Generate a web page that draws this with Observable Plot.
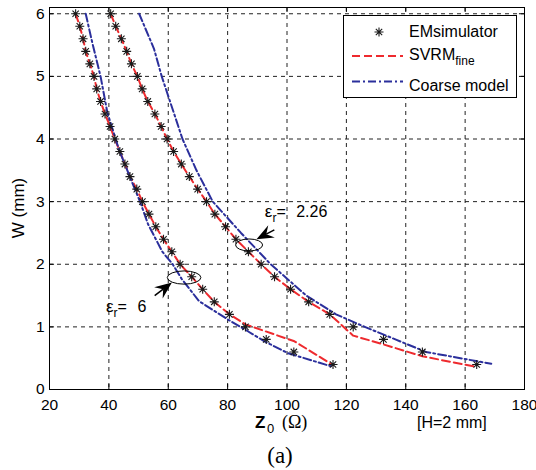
<!DOCTYPE html>
<html>
<head>
<meta charset="utf-8">
<script src="https://cdn.jsdelivr.net/npm/d3@7"></script>
<script src="https://cdn.jsdelivr.net/npm/@observablehq/plot@0.6"></script>
<style>
  body { margin: 0; background: #fff; }
  #wrap { position: relative; width: 536px; height: 470px; }
  #cap { position: absolute; left: 0; top: 444px; width: 560px; text-align: center;
         font-family: "Liberation Serif", "Times New Roman", serif; font-size: 23px; line-height: 23px; }
</style>
</head>
<body>
<div id="wrap"><div id="chart"></div><div id="cap">(a)</div></div>
<script>
// ---- data ----
const xTicks = [20, 40, 60, 80, 100, 120, 140, 160, 180];
const yTicks = [0, 1, 2, 3, 4, 5, 6];
const emW = [6.0, 5.8, 5.6, 5.4, 5.2, 5.0, 4.8, 4.6, 4.4, 4.2, 4.0, 3.8, 3.6, 3.4, 3.2, 3.0, 2.8, 2.6, 2.4, 2.2, 2.0, 1.8, 1.6, 1.4, 1.2, 1.0, 0.8, 0.6, 0.4];
const emZ_er6 = [28.8, 30.2, 31.3, 32.2, 33.6, 35.0, 35.9, 37.2, 38.7, 40.4, 42.0, 43.7, 45.4, 47.1, 49.4, 51.3, 53.5, 55.8, 58.4, 61.2, 64.0, 67.9, 71.6, 75.5, 80.6, 86.0, 93.0, 102.3, 115.5];
const emZ_er226 = [40.6, 42.3, 44.2, 46.0, 47.6, 49.6, 51.2, 53.1, 55.5, 57.6, 59.6, 61.8, 64.4, 67.1, 69.9, 72.9, 75.7, 79.3, 82.8, 87.0, 91.3, 95.8, 101.2, 107.3, 114.4, 122.3, 132.5, 145.6, 163.9];
// SVRM fine model (red dashed)
const svrmZ_er6 = [28.8, 30.2, 31.3, 32.2, 33.6, 35.0, 35.9, 37.2, 38.7, 40.4, 42.0, 43.7, 45.4, 47.1, 49.4, 51.3, 53.5, 55.8, 58.4, 61.2, 64.0, 67.9, 71.6, 75.5, 80.6, 86.0, 102.5, 115.5];
const svrmW_er6 = [6.0, 5.8, 5.6, 5.4, 5.2, 5.0, 4.8, 4.6, 4.4, 4.2, 4.0, 3.8, 3.6, 3.4, 3.2, 3.0, 2.8, 2.6, 2.4, 2.2, 2.0, 1.8, 1.6, 1.4, 1.2, 1.04, 0.77, 0.39];
const svrmZ_er226 = [40.6, 42.3, 44.2, 46.0, 47.6, 49.6, 51.2, 53.1, 55.5, 57.6, 59.6, 61.8, 64.4, 67.1, 69.9, 72.9, 75.7, 79.3, 82.8, 87.0, 91.3, 95.8, 101.2, 107.3, 114.4, 122.3, 132.5, 145.6, 163.9];
const svrmW_er226 = [6.0, 5.8, 5.6, 5.4, 5.2, 5.0, 4.8, 4.6, 4.4, 4.2, 4.0, 3.8, 3.6, 3.4, 3.2, 3.0, 2.8, 2.6, 2.4, 2.2, 2.0, 1.8, 1.6, 1.4, 1.2, 0.86, 0.72, 0.53, 0.36];
// Coarse model (blue dash-dot)
const coarseZ_er6 = [32.2, 34.4, 37.2, 39.5, 43.4, 47.9, 50.5, 53.2, 58.0, 61.5, 64.6, 70.4, 80.0, 86.8, 92.4, 100.3, 114.9];
const coarseW_er6 = [6.0, 5.54, 5.0, 4.42, 3.83, 3.3, 3.0, 2.64, 2.2, 2.0, 1.76, 1.41, 1.12, 0.93, 0.77, 0.58, 0.37];
const coarseZ_er226 = [50.2, 55.2, 57.8, 64.8, 69.5, 75.0, 84.5, 94.5, 106.5, 116.5, 126.2, 136.5, 146.8, 168.8];
const coarseW_er226 = [6.0, 5.44, 5.0, 4.0, 3.5, 3.0, 2.5, 2.0, 1.5, 1.2, 1.0, 0.8, 0.6, 0.41];
// annotations
const annText = ["2.26", "6"];
const annTextZ = [92.7, 39.2];
const annTextW = [2.75, 1.23];
const ellZ = [87.4, 65.5];
const ellW = [2.30, 1.78];
const arrowTipZ = [89.9, 61.4];
const arrowTipW = [2.39, 1.70];
const arrowTailZ = [95.9, 55.6];
const arrowTailW = [2.54, 1.49];
const legendLabels = ["EMsimulator", "SVRM", "Coarse model"];

// ---- build tables ----
const em = [...emW.map((w, i) => ({z: emZ_er6[i], w})), ...emW.map((w, i) => ({z: emZ_er226[i], w}))];
const svrm6 = svrmZ_er6.map((z, i) => ({z, w: svrmW_er6[i]}));
const svrm226 = svrmZ_er226.map((z, i) => ({z, w: svrmW_er226[i]}));
const coarse6 = coarseZ_er6.map((z, i) => ({z, w: coarseW_er6[i]}));
const coarse226 = coarseZ_er226.map((z, i) => ({z, w: coarseW_er226[i]}));

const star = {
  draw(ctx, size) {
    const r = Math.sqrt(size / Math.PI), d = r * Math.SQRT1_2;
    ctx.moveTo(-r, 0); ctx.lineTo(r, 0);
    ctx.moveTo(0, -r); ctx.lineTo(0, r);
    ctx.moveTo(-d, -d); ctx.lineTo(d, d);
    ctx.moveTo(-d, d); ctx.lineTo(d, -d);
  }
};

const RED = "#ee2a2e", BLUE = "#2b2f9c";
const redDash = "8,4", blueDash = "8,3,2,3";

const lineOpts = (stroke, dash) => ({x: "z", y: "w", stroke, strokeWidth: 2, strokeDasharray: dash});

const plot = Plot.plot({
  width: 536,
  height: 440,
  marginLeft: 49,
  marginRight: 12,
  marginTop: 7,
  marginBottom: 51,
  style: {fontFamily: "'Liberation Sans', Arial, sans-serif", fontSize: "15.5px", color: "#000", background: "#fff"},
  x: {domain: [20, 180], ticks: xTicks, tickSize: 0, tickPadding: 9, label: null, tickFormat: d => String(d)},
  y: {domain: [0, 6.1], ticks: yTicks, tickSize: 0, tickPadding: 5, label: null, tickFormat: d => String(d)},
  marks: [
    Plot.ruleX(xTicks.slice(1, -1), {stroke: "#222", strokeDasharray: "4,4", strokeWidth: 1}),
    Plot.ruleY(yTicks.slice(1), {stroke: "#222", strokeDasharray: "4,4", strokeWidth: 1}),
    Plot.ruleX(xTicks, {y1: 0, y2: 0.08, stroke: "#000"}),
    Plot.ruleX(xTicks, {y1: 6.02, y2: 6.1, stroke: "#000"}),
    Plot.ruleY(yTicks, {x1: 20, x2: 21.7, stroke: "#000"}),
    Plot.ruleY(yTicks, {x1: 178.3, x2: 180, stroke: "#000"}),
    Plot.line(svrm6, lineOpts(RED, redDash)),
    Plot.line(svrm226, lineOpts(RED, redDash)),
    Plot.line(coarse6, lineOpts(BLUE, blueDash)),
    Plot.line(coarse226, lineOpts(BLUE, blueDash)),
    Plot.dot(em, {x: "z", y: "w", symbol: star, r: 4.5, stroke: "#1a1a1a", strokeWidth: 1.1}),
    Plot.frame({stroke: "#000", strokeWidth: 1})
  ]
});

document.getElementById("chart").appendChild(plot);

// ---- annotations via the plot's scales ----
const X = plot.scale("x"), Y = plot.scale("y");
const svg = d3.select(plot);
const g = svg.append("g")
  .attr("font-family", "'Liberation Sans', Arial, sans-serif")
  .attr("text-anchor", "start")
  .attr("fill", "#000");

annText.forEach((t, i) => {
  const px = X.apply(annTextZ[i]), py = Y.apply(annTextW[i]);
  const tx = g.append("text").attr("x", px).attr("y", py).attr("font-size", 16);
  tx.append("tspan").attr("font-size", 17).text("ε");
  tx.append("tspan").attr("font-size", 12).attr("dy", 5).text("r");
  tx.append("tspan").attr("dy", -5).text("= ");
  tx.append("tspan").attr("dx", 6).text(t);
});

ellZ.forEach((z, i) => {
  g.append("ellipse").attr("cx", X.apply(z)).attr("cy", Y.apply(ellW[i]))
    .attr("rx", i === 0 ? 13.5 : 16.8).attr("ry", i === 0 ? 6 : 6.6)
    .attr("fill", "none").attr("stroke", "#000").attr("stroke-width", 1);
});

arrowTipZ.forEach((z, i) => {
  const x1 = X.apply(z), y1 = Y.apply(arrowTipW[i]);
  const x0 = X.apply(arrowTailZ[i]), y0 = Y.apply(arrowTailW[i]);
  const ang = Math.atan2(y1 - y0, x1 - x0);
  const L = 17, W = 7, notch = 11;
  const p = (a, b) => [x1 - a * Math.cos(ang) + b * Math.sin(ang), y1 - a * Math.sin(ang) - b * Math.cos(ang)];
  const pts = [[x1, y1], p(L, W), p(notch, 0), p(L, -W)];
  g.append("path").attr("d", "M" + pts.map(q => q.join(",")).join("L") + "Z").attr("fill", "#000");
  g.append("line").attr("x1", x0).attr("y1", y0).attr("x2", p(notch, 0)[0]).attr("y2", p(notch, 0)[1])
    .attr("stroke", "#000").attr("stroke-width", 1.5);
});

// axis labels
g.append("text").attr("x", 255).attr("y", 428).attr("font-size", 17).attr("font-weight", "bold").text("Z");
g.append("text").attr("x", 267).attr("y", 433).attr("font-size", 13).text("0");
g.append("text").attr("x", 282).attr("y", 428).attr("font-size", 18)
  .attr("font-family", "'Liberation Serif', 'Times New Roman', serif").text("(Ω)");
g.append("text").attr("x", 417).attr("y", 428).attr("font-size", 16).text("[H=2 mm]");
g.append("text").attr("transform", "translate(24,208) rotate(-90)").attr("text-anchor", "middle")
  .attr("font-size", 17).text("W (mm)");

// legend
const lg = g.append("g");
lg.append("rect").attr("x", 343.5).attr("y", 15.5).attr("width", 173).attr("height", 82)
  .attr("fill", "#fff").attr("stroke", "#000").attr("stroke-width", 1);
const sym = d3.symbol().type(star).size(4.5 * 4.5 * Math.PI);
lg.append("path").attr("d", sym()).attr("transform", "translate(379,32)")
  .attr("fill", "none").attr("stroke", "#1a1a1a").attr("stroke-width", 1.1);
lg.append("text").attr("x", 409).attr("y", 37).attr("font-size", 16).text(legendLabels[0]);
lg.append("line").attr("x1", 352).attr("x2", 403).attr("y1", 56).attr("y2", 56)
  .attr("stroke", RED).attr("stroke-width", 2).attr("stroke-dasharray", redDash);
const t2 = lg.append("text").attr("x", 409).attr("y", 60).attr("font-size", 16);
t2.append("tspan").text(legendLabels[1]);
t2.append("tspan").attr("font-size", 12).attr("dy", 5).text("fine");
lg.append("line").attr("x1", 352).attr("x2", 403).attr("y1", 81.5).attr("y2", 81.5)
  .attr("stroke", BLUE).attr("stroke-width", 2).attr("stroke-dasharray", blueDash);
lg.append("text").attr("x", 409).attr("y", 91).attr("font-size", 16).text(legendLabels[2]);
</script>
</body>
</html>
